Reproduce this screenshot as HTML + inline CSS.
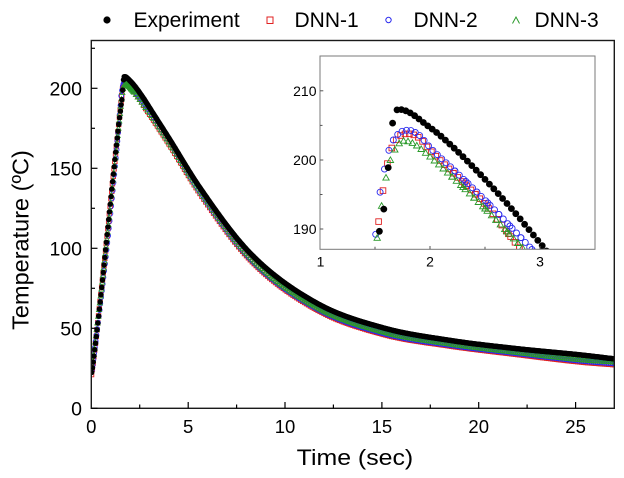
<!DOCTYPE html>
<html>
<head>
<meta charset="utf-8">
<style>
html,body{margin:0;padding:0;background:#fff;}
svg{display:block;}
text{font-family:"Liberation Sans",Arial,sans-serif;fill:#000;}
</style>
</head>
<body>
<svg id="s" width="624" height="478" viewBox="0 0 624 478" xmlns="http://www.w3.org/2000/svg">
<defs>
  <clipPath id="cm"><rect x="92" y="41" width="522" height="367"/></clipPath>
  <clipPath id="ci"><rect x="320.5" y="56.5" width="274" height="192.5"/></clipPath>
</defs>
<rect x="0" y="0" width="624" height="478" fill="#fff"/>

<!-- legend -->
<circle cx="107" cy="20" r="3.6" fill="#000"/>
<text x="133.5" y="27" font-size="21">Experiment</text>
<rect x="267" y="17" width="6" height="6.5" fill="none" stroke="#e02020" stroke-width="1"/>
<text x="294.5" y="27" font-size="21">DNN-1</text>
<circle cx="388.5" cy="20" r="2.7" fill="none" stroke="#2a2aee" stroke-width="1"/>
<text x="413.5" y="27" font-size="21">DNN-2</text>
<path d="M512.5 23.5 L516 17 L519.5 23.5" fill="none" stroke="#2a9a2a" stroke-width="1"/>
<text x="534.5" y="27" font-size="21">DNN-3</text>

<!-- main data -->
<g id="mainData" clip-path="url(#cm)"></g>

<!-- main frame -->
<rect x="91.3" y="40.5" width="523" height="367.8" fill="none" stroke="#1a1a1a" stroke-width="1.4"/>
<g stroke="#000" stroke-width="1.2">
  <line x1="91.3" y1="408.3" x2="97.5" y2="408.3"/>
  <line x1="91.3" y1="368.3" x2="95" y2="368.3"/>
  <line x1="91.3" y1="328.3" x2="97.5" y2="328.3"/>
  <line x1="91.3" y1="288.3" x2="95" y2="288.3"/>
  <line x1="91.3" y1="248.3" x2="97.5" y2="248.3"/>
  <line x1="91.3" y1="208.3" x2="95" y2="208.3"/>
  <line x1="91.3" y1="168.3" x2="97.5" y2="168.3"/>
  <line x1="91.3" y1="128.3" x2="95" y2="128.3"/>
  <line x1="91.3" y1="88.3" x2="97.5" y2="88.3"/>
  <line x1="91.3" y1="48.3" x2="95" y2="48.3"/>
  <line x1="139.7" y1="408.3" x2="139.7" y2="404.5"/>
  <line x1="188.2" y1="408.3" x2="188.2" y2="402"/>
  <line x1="236.6" y1="408.3" x2="236.6" y2="404.5"/>
  <line x1="285" y1="408.3" x2="285" y2="402"/>
  <line x1="333.4" y1="408.3" x2="333.4" y2="404.5"/>
  <line x1="381.9" y1="408.3" x2="381.9" y2="402"/>
  <line x1="430.3" y1="408.3" x2="430.3" y2="404.5"/>
  <line x1="478.7" y1="408.3" x2="478.7" y2="402"/>
  <line x1="527.1" y1="408.3" x2="527.1" y2="404.5"/>
  <line x1="575.6" y1="408.3" x2="575.6" y2="402"/>
</g>

<g font-size="19.5" text-anchor="end">
  <text x="82" y="415.3">0</text>
  <text x="82" y="335.3">50</text>
  <text x="82" y="255.3">100</text>
  <text x="82" y="175.3">150</text>
  <text x="82" y="95.3">200</text>
</g>
<g font-size="18.5" text-anchor="middle">
  <text x="91.3" y="433">0</text>
  <text x="188.2" y="433">5</text>
  <text x="285" y="433">10</text>
  <text x="381.9" y="433">15</text>
  <text x="478.7" y="433">20</text>
  <text x="575.6" y="433">25</text>
</g>

<text x="296.7" y="465" font-size="22.5" textLength="116.5" lengthAdjust="spacingAndGlyphs">Time (sec)</text>
<text transform="translate(28.5,240) rotate(-90)" text-anchor="middle" font-size="23.5">Temperature (ºC)</text>

<!-- inset -->
<rect x="320" y="56" width="275" height="193.3" fill="#fff" stroke="none"/>
<g id="insetData" clip-path="url(#ci)"></g>
<rect x="320" y="56" width="275" height="193.3" fill="none" stroke="#7a7a7a" stroke-width="1"/>
<g stroke="#555" stroke-width="1">
  <line x1="375" y1="249.3" x2="375" y2="246.8"/>
  <line x1="430" y1="249.3" x2="430" y2="246"/>
  <line x1="485" y1="249.3" x2="485" y2="246.8"/>
  <line x1="540" y1="249.3" x2="540" y2="246"/>
  <line x1="320" y1="229" x2="323.3" y2="229"/>
  <line x1="320" y1="194.5" x2="322.5" y2="194.5"/>
  <line x1="320" y1="160" x2="323.3" y2="160"/>
  <line x1="320" y1="125.4" x2="322.5" y2="125.4"/>
  <line x1="320" y1="90.8" x2="323.3" y2="90.8"/>
</g>
<g font-size="14" text-anchor="end">
  <text x="316.5" y="96">210</text>
  <text x="316.5" y="165.2">200</text>
  <text x="316.5" y="234.2">190</text>
</g>
<g font-size="14" text-anchor="middle">
  <text x="320.5" y="266.5">1</text>
  <text x="430" y="266.5">2</text>
  <text x="540" y="266.5">3</text>
</g>
</svg>

<script>
(function(){
  function mono(pts){
    var n=pts.length,x=[],y=[],d=[],m=[],i;
    for(i=0;i<n;i++){x.push(pts[i][0]);y.push(pts[i][1]);}
    for(i=0;i<n-1;i++){d.push((y[i+1]-y[i])/(x[i+1]-x[i]));}
    m[0]=d[0];m[n-1]=d[n-2];
    for(i=1;i<n-1;i++){m[i]=(d[i-1]*d[i]<=0)?0:(d[i-1]+d[i])/2;}
    for(i=0;i<n-1;i++){
      if(d[i]===0){m[i]=0;m[i+1]=0;continue;}
      var a=m[i]/d[i],b=m[i+1]/d[i],s=a*a+b*b;
      if(s>9){var t=3/Math.sqrt(s);m[i]=t*a*d[i];m[i+1]=t*b*d[i];}
    }
    return function(t){
      if(t<=x[0])return y[0];
      if(t>=x[n-1])return y[n-1];
      var k=0;while(k<n-2&&t>x[k+1])k++;
      var h=x[k+1]-x[k],u=(t-x[k])/h,u2=u*u,u3=u2*u;
      return (2*u3-3*u2+1)*y[k]+(u3-2*u2+u)*h*m[k]+(-2*u3+3*u2)*y[k+1]+(u3-u2)*h*m[k+1];
    };
  }
  var EXP=mono([[0,21],[0.08,27],[1.54,189.7],[1.59,194],[1.64,202.3],[1.67,206.3],[1.72,207.3],[2,204.7],[2.18,202.3],[2.5,197.2],[2.75,192.8],[3,188],[4,169],[5.6,138],[8.2,97],[11.6,66],[15.07,50.3],[18.5,42.5],[21.96,37.3],[25.4,33.2],[27,30.9]]);
  var D1=mono([[0,20],[0.08,27],[1.5,187.3],[1.58,196.3],[1.62,200],[1.68,202.6],[1.8,203.8],[1.9,203.2],[2,201.4],[2.2,198.3],[2.5,193.6],[2.83,187],[3,184],[4,165.5],[5.6,134.5],[8.2,93],[11.6,62],[15.07,46.3],[18.5,39],[21.96,33.7],[25.4,28.8],[27,27.3]]);
  var D2=mono([[0,22],[0.08,28],[1.5,188.3],[1.53,193.5],[1.58,198.2],[1.63,201.6],[1.7,203.6],[1.8,204.3],[1.9,203.6],[2,201.8],[2.2,198.8],[2.5,194.2],[2.93,187],[3,185.8],[4,167],[5.6,135.5],[8.2,93.5],[11.6,62.5],[15.07,46.8],[18.5,39.5],[21.96,34.3],[25.4,29.5],[27,28]]);
  var D3=mono([[0,24],[0.08,30],[1.545,191.6],[1.585,196.2],[1.636,199.8],[1.676,201.4],[1.76,202.8],[1.85,202.4],[2,200.5],[2.2,197.6],[2.5,193],[2.85,187.2],[3,184.8],[4,166.5],[5.6,136],[8.2,94.5],[11.6,63.5],[15.07,47.8],[18.5,40.3],[21.96,35],[25.4,30.3],[27,29]]);

  function MX(t){return 91.3+t*19.37;}
  function MY(T){return 408.3-T*1.6;}
  function IX(t){return 320+(t-1)*110;}
  function IY(T){return 160-(T-200)*6.92;}

  function mk(type,x,y,sc){
    var X=+x,Y=+y;
    if(type==='e') return '<circle cx="'+X.toFixed(1)+'" cy="'+Y.toFixed(1)+'" r="'+(3.4*sc).toFixed(2)+'" fill="#000"/>';
    if(type==='r'){var h=2.8*sc;return '<rect x="'+(X-h).toFixed(1)+'" y="'+(Y-h).toFixed(1)+'" width="'+(2*h).toFixed(1)+'" height="'+(2*h).toFixed(1)+'" fill="none" stroke="#e02020" stroke-width="0.9"/>';}
    if(type==='b') return '<circle cx="'+X.toFixed(1)+'" cy="'+Y.toFixed(1)+'" r="'+(3*sc).toFixed(2)+'" fill="none" stroke="#2a2aee" stroke-width="0.9"/>';
    var w=3.2*sc,a=2.6*sc,b=3*sc;
    return '<path d="M'+(X-w).toFixed(1)+' '+(Y+a).toFixed(1)+'L'+X.toFixed(1)+' '+(Y-b).toFixed(1)+'L'+(X+w).toFixed(1)+' '+(Y+a).toFixed(1)+'Z" fill="none" stroke="#2a9a2a" stroke-width="0.9"/>';
  }
  var series=[['r',D1,0.013],['b',D2,0.026],['g',D3,0.0],['e',EXP,0.02]];
  var main='',ins='';
  for(var s=0;s<series.length;s++){
    var ty=series[s][0],f=series[s][1],off=series[s][2];
    var t=off;
    while(t<=27.2){
      var T=f(t);
      main+=mk(ty,MX(t),MY(T),0.8);
      if(t>1.35&&t<3.3){ins+=mk(ty,IX(t),IY(T),1);}
      if(ty==='e'||t<2.2) t+=0.04; else t+=0.1;
    }
    if(ty!=='e'){
      for(var t2=2.2+off;t2<3.3;t2+=0.04){
        var T2=f(t2);
        ins+=mk(ty,IX(t2),IY(T2),1);
      }
    }
  }
  document.getElementById('mainData').innerHTML=main;
  document.getElementById('insetData').innerHTML=ins;
})();
</script>
</body>
</html>
